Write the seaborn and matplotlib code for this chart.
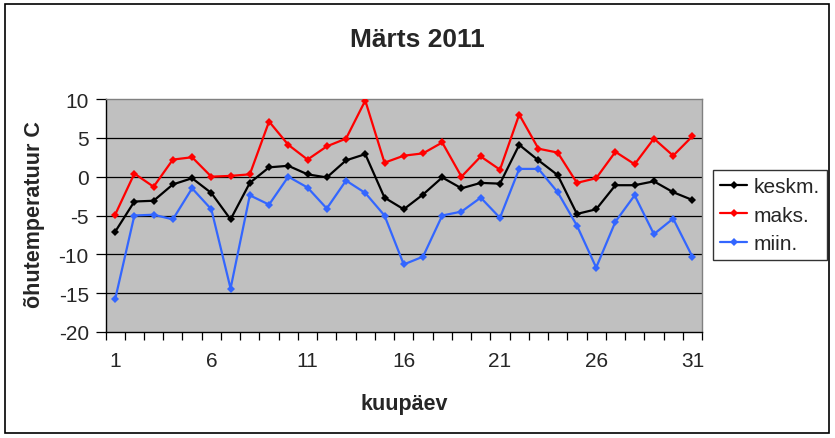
import pandas as pd
import matplotlib.pyplot as plt
import seaborn as sns
from matplotlib.patches import Rectangle

# March 2011 daily air temperatures
days = list(range(1, 32))
keskm = [-7.1, -3.2, -3.1, -1.0, -0.2, -2.1, -5.5, -0.8, 1.2, 1.4,
         0.3, -0.1, 2.1, 2.9, -2.7, -4.2, -2.3, -0.1, -1.5, -0.8,
         -0.9, 4.1, 2.1, 0.2, -4.8, -4.2, -1.1, -1.1, -0.6, -2.0, -3.0]
maks = [-4.9, 0.4, -1.3, 2.2, 2.5, 0.0, 0.1, 0.3, 7.1, 4.1,
        2.2, 3.9, 4.9, 9.8, 1.8, 2.7, 3.0, 4.4, 0.0, 2.6,
        0.9, 8.0, 3.6, 3.1, -0.8, -0.2, 3.2, 1.6, 4.9, 2.7, 5.2]
miin = [-15.8, -5.0, -4.9, -5.5, -1.5, -4.2, -14.4, -2.4, -3.6, 0.0,
        -1.4, -4.1, -0.5, -2.1, -5.0, -11.3, -10.3, -5.0, -4.5, -2.7,
        -5.3, 1.0, 1.0, -2.0, -6.3, -11.7, -5.8, -2.4, -7.4, -5.4, -10.3]
series_names = ['keskm.', 'maks.', 'miin.']
series_colors = ['#000000', '#FF0000', '#3366FF']

df = pd.DataFrame({'day': days, 'keskm.': keskm, 'maks.': maks, 'miin.': miin})
long_df = df.melt(id_vars='day', var_name='seeria', value_name='temp')

sns.set_style('white')
plt.rcParams['font.family'] = ['Liberation Sans', 'DejaVu Sans']
plt.rcParams['axes.unicode_minus'] = False

fig = plt.figure(figsize=(8.35, 4.39), dpi=100)
ax = fig.add_axes([105.5 / 835, (439 - 333) / 439, (702 - 105.5) / 835, (333 - 100) / 439])
ax.set_facecolor('#C0C0C0')

# outer chart border
fig.patches.append(Rectangle((5 / 835, 5 / 439), 824 / 835, 429 / 439, transform=fig.transFigure,
                             fill=False, edgecolor='black', linewidth=1.2))

for y in range(-15, 10, 5):
    ax.axhline(y, color='black', linewidth=0.9, zorder=1)

sns.lineplot(data=long_df, x='day', y='temp', hue='seeria', hue_order=series_names,
             palette=series_colors, marker='D', markersize=4.5, markeredgewidth=0,
             linewidth=1.6, ax=ax, legend=False, zorder=3)

ax.set_xlim(0.5, 31.5)
ax.set_ylim(-20, 10)
ax.set_yticks(range(-20, 11, 5))
ax.set_xticks(days[::5])
ax.set_xticks([d + 0.5 for d in range(0, 32)], minor=True)
ax.tick_params(axis='x', which='major', length=0, pad=14, labelsize=15)
ax.tick_params(axis='x', which='minor', length=6, width=0.9, direction='out', color='black')
ax.tick_params(axis='y', which='major', length=7, width=0.9, direction='out', color='black',
               labelsize=15, pad=5)
ax.xaxis.set_ticks_position('bottom')
ax.yaxis.set_ticks_position('left')

for side in ['top', 'right']:
    ax.spines[side].set_color('#808080')
    ax.spines[side].set_linewidth(1.0)
for side in ['left', 'bottom']:
    ax.spines[side].set_color('black')
    ax.spines[side].set_linewidth(1.0)

ax.set_xlabel('')
ax.set_ylabel('')
fig.text(417 / 835, 1 - 40 / 439, 'Märts 2011', ha='center', va='center',
         fontsize=19, fontweight='bold')
fig.text(404 / 835, 1 - 405 / 439, 'kuupäev', ha='center', va='center',
         fontsize=15.5, fontweight='bold')
fig.text(35 / 835, 1 - 215 / 439, 'õhutemperatuur C', ha='center', va='center',
         rotation=90, fontsize=15.5, fontweight='bold')

handles = [plt.Line2D([], [], color=c, marker='D', markersize=4, markeredgewidth=0, linewidth=1.6)
           for c in series_colors]
leg = fig.legend(handles, series_names, loc='upper left',
                 bbox_to_anchor=(713 / 835, 1 - 171 / 439), bbox_transform=fig.transFigure,
                 fontsize=15, frameon=True, fancybox=False, edgecolor='black',
                 handlelength=1.3, handletextpad=0.3, labelspacing=0.45,
                 borderpad=0.35, borderaxespad=0)
leg.get_frame().set_linewidth(1.0)

plt.savefig('out.png', dpi=100)
